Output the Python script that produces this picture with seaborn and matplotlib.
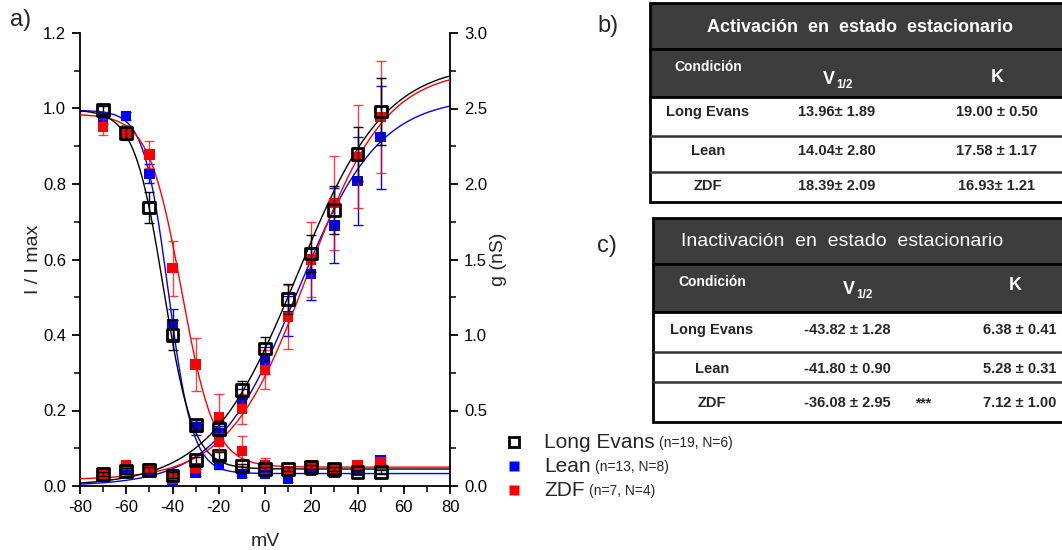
import numpy as np
import pandas as pd
import matplotlib
matplotlib.use("Agg")
import matplotlib.pyplot as plt
import seaborn as sns
from matplotlib.patches import Rectangle
from matplotlib.ticker import MultipleLocator, FormatStrFormatter

# ---------------- data ----------------
voltages = [-70, -60, -50, -40, -30, -20, -10, 0, 10, 20, 30, 40, 50]
groups = ["Long Evans", "Lean", "ZDF"]
group_n = ["(n=19, N=6)", "(n=13, N=8)", "(n=7, N=4)"]
colors = ["#000000", "#0000ff", "#ff0000"]

# steady-state inactivation, I / I max
inact_le = [0.996, 0.935, 0.738, 0.400, 0.161, 0.081, 0.052, 0.046, 0.046, 0.050, 0.045, 0.037, 0.037]
inact_lean = [0.975, 0.980, 0.827, 0.430, 0.155, 0.055, 0.031, 0.031, 0.020, 0.040, 0.035, 0.040, 0.068]
inact_zdf = [0.951, 0.936, 0.878, 0.577, 0.322, 0.183, 0.093, 0.055, 0.040, 0.055, 0.048, 0.055, 0.062]
inact_le_err = [0.010, 0.015, 0.040, 0.040, 0.015, 0.010, 0.006, 0.005, 0.005, 0.005, 0.005, 0.005, 0.005]
inact_lean_err = [0.015, 0.010, 0.025, 0.040, 0.020, 0.010, 0.006, 0.005, 0.010, 0.005, 0.005, 0.005, 0.010]
inact_zdf_err = [0.020, 0.020, 0.035, 0.073, 0.070, 0.060, 0.040, 0.020, 0.010, 0.010, 0.008, 0.010, 0.010]

# steady-state activation, g (nS)
act_le = [0.078, 0.100, 0.105, 0.070, 0.170, 0.380, 0.635, 0.910, 1.240, 1.540, 1.830, 2.200, 2.480]
act_lean = [0.070, 0.115, 0.105, 0.025, 0.090, 0.350, 0.570, 0.830, 1.125, 1.405, 1.725, 2.020, 2.310]
act_zdf = [0.070, 0.140, 0.115, 0.050, 0.120, 0.290, 0.510, 0.770, 1.120, 1.500, 1.875, 2.180, 2.445]
act_le_err = [0.015, 0.020, 0.020, 0.020, 0.025, 0.050, 0.060, 0.080, 0.100, 0.125, 0.160, 0.180, 0.225]
act_lean_err = [0.015, 0.020, 0.020, 0.020, 0.025, 0.050, 0.070, 0.090, 0.130, 0.170, 0.250, 0.290, 0.340]
act_zdf_err = [0.015, 0.020, 0.020, 0.020, 0.025, 0.060, 0.100, 0.130, 0.210, 0.250, 0.310, 0.340, 0.370]

# Boltzmann fit parameters (V1/2, k from the tables; amplitudes)
act_v12 = [13.96, 14.04, 18.39]
act_k = [19.00, 17.58, 16.93]
act_gmax = [2.80, 2.575, 2.72]
act_g0 = [0.0, 0.0, 0.04]
inact_v12 = [-43.82, -41.80, -36.08]
inact_k = [6.38, 5.28, 7.12]
inact_top = [0.997, 0.995, 0.985]
inact_bottom = [0.045, 0.033, 0.050]

# tables
tab_b_title = "Activación  en  estado  estacionario"
tab_b_v12 = ["13.96± 1.89", "14.04± 2.80", "18.39± 2.09"]
tab_b_k = ["19.00 ± 0.50", "17.58 ± 1.17", "16.93± 1.21"]
tab_c_title = "Inactivación  en  estado  estacionario"
tab_c_v12 = ["-43.82 ± 1.28", "-41.80 ± 0.90", "-36.08 ± 2.95"]
tab_c_sig = ["", "", "***"]
tab_c_k = ["6.38 ± 0.41", "5.28 ± 0.31", "7.12 ± 1.00"]

# ---------------- style ----------------
sns.set_style("ticks")
plt.rcParams["font.family"] = ["Liberation Sans", "DejaVu Sans"]
plt.rcParams["axes.unicode_minus"] = False

W, H = 1062, 550
fig = plt.figure(figsize=(W / 100, H / 100), dpi=100)

ax = fig.add_axes([80 / W, 1 - 486 / H, 370 / W, 453 / H])
ax2 = ax.twinx()

inact_all = [inact_le, inact_lean, inact_zdf]
inact_err_all = [inact_le_err, inact_lean_err, inact_zdf_err]
act_all = [act_le, act_lean, act_zdf]
act_err_all = [act_le_err, act_lean_err, act_zdf_err]

vfit = np.linspace(-80, 80, 400)
order = [1, 2, 0]  # blue, red, black on top
for axis, kind in [(ax, "inact"), (ax2, "act")]:
    for z, i in enumerate(order):
        c = colors[i]
        if kind == "inact":
            y = inact_all[i]; e = inact_err_all[i]
            fit = inact_bottom[i] + (inact_top[i] - inact_bottom[i]) / (1 + np.exp((vfit - inact_v12[i]) / inact_k[i]))
        else:
            y = act_all[i]; e = act_err_all[i]
            fit = act_g0[i] + act_gmax[i] / (1 + np.exp(-(vfit - act_v12[i]) / act_k[i]))
        df_fit = pd.DataFrame({"V": vfit, "y": fit})
        sns.lineplot(data=df_fit, x="V", y="y", ax=axis, color=c, lw=1.0, zorder=2 + z)
        alpha = 0.75 if i == 2 else 1.0
        axis.errorbar(voltages, y, yerr=e, fmt="none", ecolor=c, elinewidth=1.0,
                      capsize=3.5, capthick=1.0, alpha=alpha, zorder=3 + z)
        df_pts = pd.DataFrame({"V": voltages, "y": y})
        if i == 0:
            sns.scatterplot(data=df_pts, x="V", y="y", ax=axis, marker="s", s=72,
                            facecolor="none", edgecolor=c, linewidth=2.0, zorder=4 + z)
        else:
            sns.scatterplot(data=df_pts, x="V", y="y", ax=axis, marker="s", s=55,
                            color=c, edgecolor="none", linewidth=0, zorder=4 + z)

ax.set_xlim(-80, 80)
ax.set_ylim(0, 1.2)
ax2.set_ylim(0, 3.0)
ax.xaxis.set_major_locator(MultipleLocator(20))
ax.xaxis.set_minor_locator(MultipleLocator(10))
ax.yaxis.set_major_locator(MultipleLocator(0.2))
ax.yaxis.set_minor_locator(MultipleLocator(0.1))
ax.yaxis.set_major_formatter(FormatStrFormatter("%.1f"))
ax2.yaxis.set_major_locator(MultipleLocator(0.5))
ax2.yaxis.set_minor_locator(MultipleLocator(0.25))
ax2.yaxis.set_major_formatter(FormatStrFormatter("%.1f"))

for a in (ax, ax2):
    a.spines["top"].set_visible(False)
    for s in a.spines.values():
        s.set_linewidth(1.3)
        s.set_color("black")
    a.tick_params(which="major", direction="out", length=6, width=1.3, labelsize=12,
                  colors="black", pad=4)
    a.tick_params(which="minor", direction="out", length=4, width=1.3)
ax2.spines["left"].set_visible(False)
ax.spines["right"].set_visible(False)
ax2.spines["bottom"].set_visible(False)

ax.set_xlabel("mV", fontsize=14, labelpad=13)
ax.set_ylabel("I / I max", fontsize=14, labelpad=1)
ax2.set_ylabel("g (nS)", fontsize=14, labelpad=2)

# ---------------- overlay for panel letters, legend and tables ----------------
ov = fig.add_axes([0, 0, 1, 1], facecolor="none")
ov.set_xlim(0, W)
ov.set_ylim(H, 0)
ov.axis("off")

ov.text(10, 20, "a)", fontsize=17, ha="left", va="center")
ov.text(597, 26, "b)", fontsize=17, ha="left", va="center")
ov.text(597, 246, "c)", fontsize=17, ha="left", va="center")

# legend
leg_y = [442, 466, 490]
fig.canvas.draw()
renderer = fig.canvas.get_renderer()
for i in range(3):
    if i == 0:
        ov.plot([514], [leg_y[i]], marker="s", ms=7.5, mfc="none", mec=colors[i], mew=2.0)
    else:
        ov.plot([514], [leg_y[i]], marker="s", ms=7.5, mfc=colors[i], mec="none")
    t = ov.text(544, leg_y[i], groups[i], fontsize=15, ha="left", va="center")
    bb = t.get_window_extent(renderer=renderer)
    ov.text(bb.x1 + 4, leg_y[i] + 1.5, group_n[i], fontsize=10, ha="left", va="center")

dark = "#3d3d3d"


def draw_table(x0, ys, title, title_bold, title_size, v12s, ks, sigs, cx):
    x1 = W + 5
    ov.add_patch(Rectangle((x0, ys[0]), x1 - x0, ys[2] - ys[0], facecolor=dark,
                           edgecolor="black", lw=2.0, zorder=1))
    ov.plot([x0, x1], [ys[1], ys[1]], color="black", lw=2.0, zorder=2)
    ov.add_patch(Rectangle((x0, ys[2]), x1 - x0, ys[5] - ys[2], facecolor="white",
                           edgecolor="black", lw=2.0, zorder=1))
    for yy in ys[3:5]:
        ov.plot([x0, x1], [yy, yy], color="#333333", lw=1.8, zorder=2)
    ov.text(cx["title"], (ys[0] + ys[1]) / 2 + 1, title, color="white", fontsize=title_size,
            fontweight="bold" if title_bold else "normal", ha="center", va="center", zorder=3)
    ov.text(cx["cond"], cx["hy"][0], "Condición", color="white", fontsize=10, fontweight="bold",
            ha="center", va="center", zorder=3)
    ov.text(cx["v"] - 6, cx["hy"][1], "V", color="white", fontsize=13, fontweight="bold",
            ha="center", va="center", zorder=3)
    ov.text(cx["v"] + 1, cx["hy"][1] + 5, "1/2", color="white", fontsize=8.5, fontweight="bold",
            ha="left", va="center", zorder=3)
    ov.text(cx["k"], cx["hy"][2], "K", color="white", fontsize=13, fontweight="bold",
            ha="center", va="center", zorder=3)
    row_y = cx["rows"]
    for r in range(3):
        ov.text(cx["cond"], row_y[r], groups[r], fontsize=10.5, fontweight="bold",
                ha="center", va="center", zorder=3)
        ov.text(cx["vd"], row_y[r], v12s[r], fontsize=10.5, fontweight="bold",
                ha="center", va="center", zorder=3)
        ov.text(cx["kd"], row_y[r], ks[r], fontsize=10.5, fontweight="bold",
                ha="center", va="center", zorder=3)
        if sigs and sigs[r]:
            ov.text(cx["sig"], row_y[r], sigs[r], fontsize=10, fontweight="bold",
                    ha="center", va="center", zorder=3)


draw_table(650, [3, 49, 97, 136, 172, 202], tab_b_title, True, 13, tab_b_v12, tab_b_k, None,
           {"title": 860, "cond": 708, "v": 835, "k": 997, "vd": 837, "kd": 997,
            "hy": [67, 80, 78], "rows": [112, 151, 186]})
draw_table(653, [218, 264, 312, 352, 382, 422], tab_c_title, False, 14, tab_c_v12, tab_c_k, tab_c_sig,
           {"title": 842, "cond": 712, "v": 855, "k": 1015, "vd": 847, "kd": 1020, "sig": 923,
            "hy": [282, 290, 285], "rows": [330, 369, 403]})

fig.savefig("out.png", dpi=100)
